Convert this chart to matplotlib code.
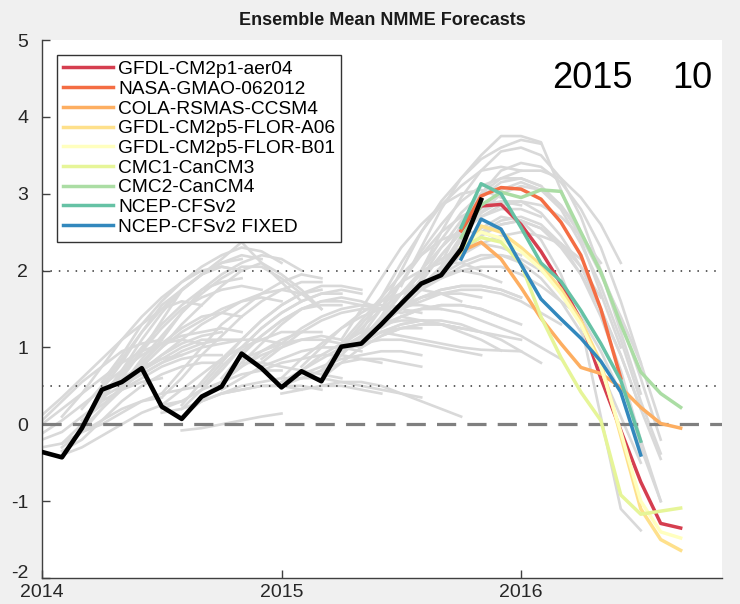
import matplotlib
matplotlib.use("Agg")
import matplotlib.pyplot as plt
import matplotlib.transforms as mtransforms
import numpy as np

plt.rcParams['font.family'] = ['Liberation Sans', 'DejaVu Sans']

# ---------------- data ----------------
year0 = 2014
months_per_year = 12

# observed (black), monthly from Jan 2014
obs = [-0.36, -0.43, -0.05, 0.45, 0.55, 0.73, 0.23, 0.07, 0.36, 0.49, 0.92, 0.73,
       0.48, 0.69, 0.56, 1.01, 1.05, 1.30, 1.57, 1.83, 1.94, 2.28, 2.92]

# current forecasts (start month index 21)
fc_start = 21
model_names = ['GFDL-CM2p1-aer04', 'NASA-GMAO-062012', 'COLA-RSMAS-CCSM4',
               'GFDL-CM2p5-FLOR-A06', 'GFDL-CM2p5-FLOR-B01', 'CMC1-CanCM3',
               'CMC2-CanCM4', 'NCEP-CFSv2', 'NCEP-CFSv2 FIXED']
model_colors = ['#d53e4f', '#f46d43', '#fdae61', '#fee08b', '#ffffbf',
                '#e6f598', '#abdda4', '#66c2a5', '#3288bd']
fc_gfdl_aer04 = [2.52, 2.84, 2.86, 2.60, 2.25, 1.83, 1.35, 0.60, -0.08, -0.75, -1.29, -1.35]
fc_nasa = [2.52, 2.97, 3.08, 3.06, 2.93, 2.63, 2.20, 1.50, 0.60]
fc_cola = [2.25, 2.37, 2.15, 1.78, 1.38, 1.05, 0.74, 0.66, 0.48, 0.22, 0.01, -0.05]
fc_flor_a06 = [2.20, 2.58, 2.50, 2.30, 2.07, 1.76, 1.35, 0.80, -0.15, -1.10, -1.50, -1.64]
fc_flor_b01 = [2.30, 2.50, 2.42, 2.25, 2.02, 1.70, 1.30, 0.75, -0.10, -1.00, -1.40, -1.48]
fc_cmc1 = [2.30, 2.43, 2.37, 2.09, 1.40, 0.87, 0.42, 0.05, -0.92, -1.17, -1.13, -1.09]
fc_cmc2 = [2.43, 2.85, 3.02, 2.95, 3.05, 3.03, 2.50, 1.98, 1.30, 0.68, 0.40, 0.22]
fc_cfsv2 = [2.56, 3.13, 3.00, 2.56, 2.10, 1.86, 1.48, 1.05, 0.57, -0.22]
fc_cfsv2_fixed = [2.15, 2.67, 2.54, 2.08, 1.63, 1.37, 1.12, 0.82, 0.42, -0.40]

# past forecasts (gray): start month index and values
past_2014_starts = [0, 0, 0, 0, 0, 0, 1, 1, 1, 1, 1, 2, 2, 2, 2, 2, 3, 3, 3, 3, 3,
                    4, 4, 4, 4, 5, 5, 5, 5, 6, 6, 6, 6, 6, 7, 7, 7, 7]
past_2014_values = [
    [0.12, 0.35, 0.60, 0.85, 1.10, 1.30, 1.50, 1.60, 1.55],
    [0.00, 0.20, 0.40, 0.60, 0.80, 0.95, 1.05, 1.10, 1.05],
    [-0.12, 0.05, 0.25, 0.45, 0.60, 0.75, 0.85, 0.90],
    [0.05, 0.30, 0.55, 0.75, 0.95, 1.05, 1.10],
    [-0.20, -0.10, 0.10, 0.30, 0.45, 0.55, 0.60],
    [-0.30, -0.25, -0.10, 0.05, 0.20, 0.30, 0.35],
    [-0.25, 0.00, 0.35, 0.70, 1.00, 1.30, 1.55, 1.75, 1.85, 1.90],
    [-0.30, -0.10, 0.20, 0.45, 0.70, 0.90, 1.05, 1.15, 1.20],
    [-0.35, -0.20, 0.05, 0.30, 0.50, 0.65, 0.75, 0.80, 0.80],
    [0.10, 0.40, 0.75, 1.10, 1.40, 1.65, 1.85, 2.00, 2.05, 2.00],
    [-0.40, -0.30, -0.15, 0.00, 0.15, 0.25, 0.30],
    [0.00, 0.30, 0.70, 1.10, 1.45, 1.75, 1.95, 2.05, 2.00],
    [-0.05, 0.20, 0.50, 0.80, 1.05, 1.25, 1.40, 1.45, 1.40],
    [0.05, 0.25, 0.45, 0.60, 0.75, 0.85, 0.90, 0.90],
    [0.20, 0.50, 0.85, 1.20, 1.50, 1.75, 1.95, 2.10, 2.15],
    [-0.10, 0.00, 0.15, 0.30, 0.40, 0.45, 0.50],
    [0.45, 0.80, 1.20, 1.55, 1.75, 1.95, 2.10, 2.20, 2.15],
    [0.40, 0.65, 0.95, 1.25, 1.50, 1.65, 1.75, 1.80, 1.75],
    [0.50, 0.70, 0.90, 1.05, 1.15, 1.20, 1.25, 1.20],
    [0.35, 0.50, 0.70, 0.85, 1.00, 1.10, 1.10],
    [0.55, 0.90, 1.30, 1.60, 1.85, 2.05, 2.20, 2.30, 2.25, 2.10],
    [0.60, 0.95, 1.35, 1.74, 1.95, 2.15, 2.37, 2.10, 1.85, 1.60],
    [0.50, 0.85, 1.15, 1.45, 1.70, 1.90, 2.05, 2.05, 1.90, 1.70, 1.50],
    [0.55, 0.75, 1.00, 1.20, 1.35, 1.50, 1.60, 1.65, 1.60],
    [0.50, 0.65, 0.80, 0.95, 1.05, 1.10, 1.10],
    [0.75, 1.00, 1.30, 1.55, 1.80, 2.00, 2.10, 1.95, 1.75, 1.50],
    [0.70, 0.90, 1.10, 1.30, 1.45, 1.60, 1.70, 1.75, 1.70],
    [0.65, 0.80, 0.90, 1.00, 1.05, 1.10, 1.10, 1.05],
    [0.80, 1.10, 1.45, 1.75, 1.95, 2.10, 2.20, 2.15, 2.00],
    [0.35, 0.60, 0.90, 1.15, 1.40, 1.60, 1.75, 1.85, 1.85],
    [0.25, 0.45, 0.65, 0.85, 1.00, 1.10, 1.20, 1.20],
    [0.20, 0.30, 0.45, 0.55, 0.65, 0.70, 0.70],
    [0.40, 0.70, 1.00, 1.30, 1.50, 1.70, 1.85, 1.95, 1.90],
    [0.15, 0.20, 0.30, 0.40, 0.45, 0.50, 0.50, 0.45],
    [0.20, 0.45, 0.75, 1.00, 1.25, 1.45, 1.60, 1.70, 1.70],
    [0.10, 0.30, 0.55, 0.75, 0.95, 1.10, 1.20, 1.20],
    [-0.08, -0.05, 0.00, 0.05, 0.10, 0.14],
    [0.25, 0.55, 0.85, 1.10, 1.35, 1.55, 1.70, 1.75],
]

past_early2015_starts = [8, 8, 8, 8, 9, 9, 9, 9, 10, 10, 10, 11, 11, 11, 12, 12, 12, 12,
                         13, 13, 13, 13, 14, 14, 14, 14]
past_early2015_values = [
    [0.45, 0.70, 1.00, 1.25, 1.45, 1.60, 1.70, 1.75, 1.70],
    [0.35, 0.55, 0.75, 0.90, 1.00, 1.10, 1.15, 1.10],
    [0.30, 0.40, 0.50, 0.55, 0.60, 0.60],
    [0.50, 0.80, 1.10, 1.35, 1.55, 1.70, 1.80, 1.80, 1.75],
    [0.55, 0.80, 1.05, 1.30, 1.50, 1.60, 1.65, 1.60, 1.50],
    [0.45, 0.60, 0.75, 0.85, 0.95, 1.00, 1.00, 0.95],
    [0.60, 0.90, 1.15, 1.35, 1.50, 1.55, 1.55],
    [0.40, 0.45, 0.50, 0.50, 0.50, 0.45],
    [0.95, 1.15, 1.35, 1.50, 1.60, 1.60, 1.55, 1.50],
    [0.85, 0.95, 1.05, 1.10, 1.10, 1.05, 1.00],
    [0.80, 0.80, 0.75, 0.70, 0.65, 0.60],
    [0.80, 1.00, 1.20, 1.35, 1.45, 1.50, 1.50, 1.45],
    [0.70, 0.80, 0.85, 0.90, 0.90, 0.85, 0.80],
    [0.85, 1.05, 1.25, 1.40, 1.50, 1.55, 1.55, 1.50, 1.45],
    [0.60, 0.85, 1.05, 1.25, 1.40, 1.50, 1.55, 1.55, 1.50],
    [0.50, 0.60, 0.70, 0.80, 0.85, 0.85, 0.80, 0.75],
    [0.40, 0.45, 0.50, 0.50, 0.45, 0.40],
    [0.55, 0.70, 0.85, 1.00, 1.10, 1.20, 1.25, 1.25],
    [0.75, 1.00, 1.25, 1.45, 1.60, 1.70, 1.75, 1.70, 1.60],
    [0.65, 0.75, 0.85, 0.90, 0.95, 0.95, 0.90],
    [0.70, 0.90, 1.05, 1.20, 1.30, 1.35, 1.35, 1.30],
    [0.60, 0.60, 0.55, 0.50, 0.45, 0.40, 0.35],
    [0.70, 1.00, 1.30, 1.60, 1.85, 2.00, 2.10, 2.10, 2.00],
    [0.60, 0.80, 1.00, 1.15, 1.25, 1.30, 1.30, 1.25],
    [0.50, 0.55, 0.55, 0.50, 0.40, 0.30, 0.20, 0.10],
    [0.65, 0.90, 1.15, 1.35, 1.55, 1.65, 1.70, 1.70, 1.65],
]

past_mid2015_starts = [15, 15, 15, 15, 15, 16, 16, 16, 16, 16, 16, 17, 17, 17, 17, 17,
                       17, 17, 18, 18, 18, 18, 18, 18, 18, 19, 19, 19, 19, 19, 19,
                       20, 20, 20, 20, 20, 20, 20]
past_mid2015_values = [
    [1.10, 1.50, 1.90, 2.30, 2.60, 2.85, 3.00, 3.05, 2.95],
    [1.00, 1.25, 1.50, 1.70, 1.85, 1.95, 2.00, 1.95, 1.85],
    [0.95, 1.05, 1.10, 1.10, 1.05, 1.00, 0.95, 0.90],
    [1.05, 1.35, 1.65, 1.95, 2.20, 2.40, 2.50, 2.50, 2.40],
    [1.00, 1.15, 1.30, 1.40, 1.50, 1.55, 1.55, 1.50, 1.40],
    [1.20, 1.65, 2.10, 2.50, 2.85, 3.10, 3.30, 3.35, 3.30],
    [1.10, 1.40, 1.70, 1.95, 2.15, 2.30, 2.35, 2.30, 2.20],
    [1.00, 1.15, 1.25, 1.30, 1.30, 1.25, 1.20],
    [1.05, 1.20, 1.30, 1.35, 1.30, 1.20, 1.10, 0.96],
    [1.10, 1.30, 1.50, 1.65, 1.75, 1.80, 1.80, 1.75, 1.65],
    [1.15, 1.50, 1.85, 2.20, 2.50, 2.70, 2.85, 2.90, 2.85],
    [1.50, 2.00, 2.50, 2.90, 3.20, 3.45, 3.60, 3.70, 3.65],
    [1.35, 1.70, 2.00, 2.30, 2.55, 2.70, 2.80, 2.80, 2.70],
    [1.30, 1.50, 1.65, 1.75, 1.80, 1.80, 1.75, 1.65],
    [1.20, 1.30, 1.35, 1.35, 1.30, 1.20, 1.10, 0.95, 0.80],
    [1.20, 1.15, 1.10, 1.05, 1.00, 0.97, 0.96, 0.95],
    [1.40, 1.85, 2.25, 2.60, 2.90, 3.10, 3.20, 3.20, 3.10],
    [1.25, 1.40, 1.50, 1.55, 1.55, 1.50, 1.40, 1.30],
    [1.80, 2.30, 2.80, 3.20, 3.50, 3.75, 3.75, 3.67, 3.05, 2.40, 1.70, 1.00],
    [1.60, 2.00, 2.40, 2.75, 3.00, 3.20, 3.30, 3.30, 3.20, 2.95, 2.60, 2.10],
    [1.50, 1.75, 2.00, 2.20, 2.35, 2.45, 2.50, 2.45, 2.35, 2.15],
    [1.50, 1.60, 1.70, 1.75, 1.75, 1.70, 1.60, 1.45, 1.30],
    [1.40, 1.35, 1.30, 1.25, 1.20, 1.15, 1.10],
    [1.55, 1.90, 2.20, 2.50, 2.70, 2.85, 2.90, 2.85, 2.70, 2.45, 2.10],
    [1.45, 1.50, 1.50, 1.45, 1.35, 1.25, 1.15, 1.00, 0.85],
    [2.00, 2.50, 2.95, 3.30, 3.55, 3.60, 3.50, 3.20, 2.70, 2.00, 1.20, 0.40],
    [1.90, 2.30, 2.65, 2.95, 3.15, 3.20, 3.10, 2.85, 2.45, 1.95, 1.40, 0.80],
    [1.80, 2.05, 2.30, 2.50, 2.60, 2.65, 2.55, 2.35, 2.05, 1.65],
    [1.75, 1.90, 2.00, 2.05, 2.05, 1.95, 1.80, 1.60, 1.40],
    [1.85, 2.20, 2.50, 2.75, 2.90, 2.90, 2.75, 2.45, 2.05, 1.50, 0.90, 0.20],
    [1.80, 1.95, 2.10, 2.20, 2.20, 2.10, 1.90, 1.60, 1.20, 0.70, 0.10, -0.50],
    [2.10, 2.60, 3.00, 3.30, 3.40, 3.35, 3.15, 2.80, 2.30, 1.60, 0.80, 0.00],
    [2.00, 2.40, 2.75, 3.00, 3.10, 3.05, 2.85, 2.50, 2.00, 1.35, 0.60, -0.20],
    [1.95, 2.20, 2.45, 2.60, 2.65, 2.55, 2.30, 1.95, 1.50, 0.90, 0.20, -0.45],
    [1.90, 2.05, 2.15, 2.20, 2.15, 2.00, 1.75, 1.40, 0.95, 0.40, -0.30, -1.00],
    [2.00, 2.30, 2.55, 2.70, 2.65, 2.40, 1.95, 1.30, 0.10, -1.10, -1.38],
    [1.95, 2.25, 2.50, 2.65, 2.70, 2.60, 2.35, 1.95, 1.40, 0.70, -0.20, -1.00],
    [2.05, 2.45, 2.80, 3.05, 3.15, 3.05, 2.80, 2.35, 1.80, 1.10, 0.30, -0.38],
]

title_text = 'Ensemble Mean NMME Forecasts'
issue_year = '2015'
issue_month = '10'
xtick_years = [2014, 2015, 2016]
yticks = [-2, -1, 0, 1, 2, 3, 4, 5]
ref_dotted = [2.0, 0.5]
ref_dashed = 0.0


def xs(start, n):
    return year0 + (start + np.arange(n)) / months_per_year


# ---------------- figure ----------------
fig = plt.figure(figsize=(7.4, 6.04), dpi=100, facecolor='#f0f0f0')
ax = fig.add_axes([42 / 740, 1 - 578 / 604, 680 / 740, 538 / 604])
ax.set_facecolor('white')

gray = '#d9d9d9'
for starts, vals in [(past_2014_starts, past_2014_values),
                     (past_early2015_starts, past_early2015_values),
                     (past_mid2015_starts, past_mid2015_values)]:
    for s, v in zip(starts, vals):
        ax.plot(xs(s, len(v)), v, color=gray, lw=1.9, zorder=1,
                solid_joinstyle='round')

for yv in ref_dotted:
    ax.axhline(yv, color='#333333', lw=1.1, ls=(0, (1, 4.5)), zorder=2)
ax.axhline(ref_dashed, color='#7f7f7f', lw=2.3, ls=(0, (6, 3.5)), zorder=2)

fcs = [fc_gfdl_aer04, fc_nasa, fc_cola, fc_flor_a06, fc_flor_b01, fc_cmc1,
       fc_cmc2, fc_cfsv2, fc_cfsv2_fixed]
handles = []
for name, col, v in zip(model_names, model_colors, fcs):
    h, = ax.plot(xs(fc_start, len(v)), v, color=col, lw=2.5, zorder=3,
                 label=name, solid_joinstyle='round')
    handles.append(h)

ax.plot(xs(0, len(obs)), obs, color='black', lw=3.3, zorder=4,
        solid_joinstyle='round')

ax.set_xlim(2014, 2014 + 680 / 239.5)
ax.set_ylim(-2, 5)
ax.set_xticks(xtick_years)
ax.set_xticklabels([str(y) for y in xtick_years])
ax.set_yticks(yticks)
ax.set_yticklabels([str(y) for y in yticks])
ax.tick_params(direction='in', length=6, width=1, colors='#404040',
               labelsize=14, labelcolor='#262626')
ax.tick_params(axis='y', pad=10)
ax.tick_params(axis='x', pad=4)
for side in ['top', 'right']:
    ax.spines[side].set_visible(False)
for side in ['left', 'bottom']:
    ax.spines[side].set_color('#404040')
    ax.spines[side].set_linewidth(1.0)

# lift the lowest y label a little, as in the reference
lowlab = ax.get_yticklabels()[0]
lowlab.set_transform(lowlab.get_transform() +
                     mtransforms.ScaledTranslation(0, 7 / 100, fig.dpi_scale_trans))

ax.set_title(title_text, fontsize=13, fontweight='bold', pad=11, color='#1a1a1a')

fig.text(552 / 740, 1 - 78 / 604, issue_year, fontsize=26, va='center',
         ha='left', color='black')
fig.text(672 / 740, 1 - 78 / 604, issue_month, fontsize=26, va='center',
         ha='left', color='black')

leg = ax.legend(handles=handles, loc='upper left',
                bbox_to_anchor=((57 - 42) / 680, (578 - 55) / 538),
                fontsize=13.8, frameon=True, fancybox=False, framealpha=1,
                edgecolor='#333333', handlelength=2.6, handletextpad=0.3,
                labelspacing=0.12, borderpad=0.3, borderaxespad=0)
leg.get_frame().set_linewidth(1.0)
leg.set_zorder(10)

fig.savefig('out.png', dpi=100, facecolor=fig.get_facecolor())
